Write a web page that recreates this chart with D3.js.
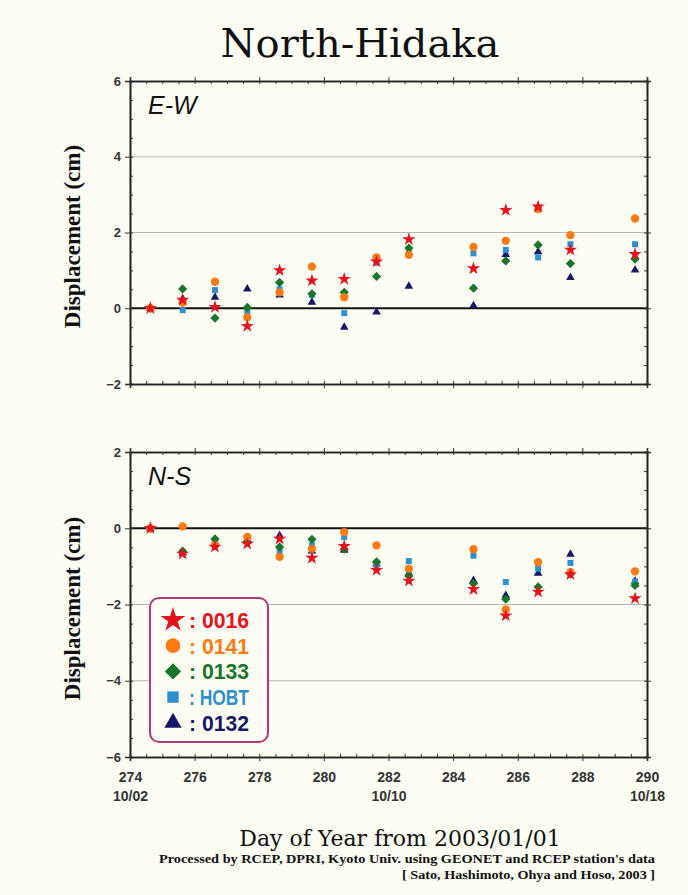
<!DOCTYPE html>
<html>
<head>
<meta charset="utf-8">
<script src="https://cdn.jsdelivr.net/npm/d3@7"></script>
<style>
  html, body { margin: 0; padding: 0; background: #fdfdf4; }
</style>
</head>
<body>
<div id="chart"></div>
<script>
// day of year of each daily solution
const days = [274.63, 275.63, 276.63, 277.63, 278.63, 279.63, 280.63, 281.63, 282.63, 284.63, 285.63, 286.63, 287.63, 289.63];

// E-W displacement (cm)
const ew0016 = [0, 0.22, 0.03, -0.47, 1.0, 0.73, 0.77, 1.23, 1.82, 1.05, 2.59, 2.68, 1.54, 1.43];
const ew0141 = [0, 0.15, 0.70, -0.24, 0.42, 1.1, 0.29, 1.34, 1.41, 1.62, 1.78, 2.62, 1.93, 2.37];
const ew0133 = [0, 0.51, -0.26, 0.02, 0.68, 0.38, 0.42, 0.84, 1.59, 0.53, 1.25, 1.67, 1.18, 1.30];
const ewHOBT = [0, -0.05, 0.48, -0.1, 0.5, 0.35, -0.13, 1.2, 1.5, 1.45, 1.54, 1.34, 1.69, 1.69];
const ew0132 = [0, 0.25, 0.29, 0.51, 0.35, 0.16, -0.5, -0.1, 0.58, 0.07, 1.42, 1.49, 0.81, 1.01];

// N-S displacement (cm)
const ns0016 = [0, -0.67, -0.49, -0.41, -0.28, -0.78, -0.47, -1.10, -1.38, -1.6, -2.29, -1.67, -1.21, -1.84];
const ns0141 = [0, 0.05, -0.45, -0.23, -0.75, -0.54, -0.10, -0.45, -1.06, -0.55, -2.13, -0.89, -1.15, -1.13];
const ns0133 = [0, -0.6, -0.28, -0.35, -0.49, -0.29, -0.55, -0.88, -1.25, -1.45, -1.86, -1.54, -1.2, -1.5];
const nsHOBT = [0, -0.62, -0.4, -0.3, -0.6, -0.45, -0.23, -1.0, -0.86, -0.72, -1.41, -1.06, -0.91, -1.4];
const ns0132 = [0, -0.65, -0.36, -0.32, -0.19, -0.6, -0.58, -0.93, -1.18, -1.37, -1.76, -1.18, -0.68, -1.39];

const stations = ["0016", "0141", "0133", "HOBT", "0132"];
const xTicks = [274, 276, 278, 280, 282, 284, 286, 288, 290];
const dateLabels = { 274: "10/02", 282: "10/10", 290: "10/18" };

const w = 688;
const h = 895;

const colors = { "0016": "#e3141e", "0141": "#ff7a12", "0133": "#17762c", "HOBT": "#2f8fcf", "0132": "#161866" };
const shapes = { "0016": d3.symbolStar, "0141": d3.symbolCircle, "0133": d3.symbolDiamond2 || d3.symbolDiamond, "HOBT": d3.symbolSquare, "0132": d3.symbolTriangle };
const sizes = { "0016": 55, "0141": 55, "0133": 55, "HOBT": 36, "0132": 32 };
const legSizes = { "0016": 190, "0141": 170, "0133": 170, "HOBT": 130, "0132": 130 };

const svg = d3.select("#chart")
  .append("svg")
  .attr("width", w)
  .attr("height", h)
  .attr("viewBox", [0, 0, w, h])
  .style("background", "#fdfdf4");

const x = d3.scaleLinear()
  .domain([274, 290])
  .range([130, 647]);

const panels = [
  { label: "E-W", top: 81, bottom: 384, domain: [-2, 6], grid: [2, 4],
    series: { "0016": ew0016, "0141": ew0141, "0133": ew0133, "HOBT": ewHOBT, "0132": ew0132 } },
  { label: "N-S", top: 452, bottom: 757, domain: [-6, 2], grid: [-2, -4],
    series: { "0016": ns0016, "0141": ns0141, "0133": ns0133, "HOBT": nsHOBT, "0132": ns0132 } }
];

panels.forEach((p, pi) => {
  const y = d3.scaleLinear().domain(p.domain).range([p.bottom, p.top]);
  const g = svg.append("g");

  // grid lines
  g.append("g")
    .selectAll("line")
    .data(p.grid)
    .join("line")
      .attr("x1", x.range()[0]).attr("x2", x.range()[1])
      .attr("y1", d => y(d)).attr("y2", d => y(d))
      .attr("stroke", "#b8b8b0")
      .attr("stroke-width", 1.2);

  // zero line
  g.append("line")
    .attr("x1", x.range()[0]).attr("x2", x.range()[1])
    .attr("y1", y(0)).attr("y2", y(0))
    .attr("stroke", "#111")
    .attr("stroke-width", 2.2);

  // axes: left with labels, others ticks only
  const left = g.append("g")
    .attr("transform", `translate(${x.range()[0]},0)`)
    .call(d3.axisLeft(y).tickValues(d3.range(p.domain[0], p.domain[1] + 0.01, 2)).tickSize(5).tickPadding(4));
  g.append("g")
    .attr("transform", `translate(${x.range()[0]},0)`)
    .call(d3.axisRight(y).tickValues(d3.range(p.domain[0], p.domain[1] + 0.01, 0.5)).tickSize(3).tickFormat(""));
  g.append("g")
    .attr("transform", `translate(${x.range()[1]},0)`)
    .call(d3.axisLeft(y).tickValues(d3.range(p.domain[0], p.domain[1] + 0.01, 0.5)).tickSize(3).tickFormat(""));
  g.append("g")
    .attr("transform", `translate(${x.range()[1]},0)`)
    .call(d3.axisRight(y).tickValues(d3.range(p.domain[0], p.domain[1] + 0.01, 2)).tickSize(4).tickFormat(""));
  g.append("g")
    .attr("transform", `translate(0,${p.top})`)
    .call(d3.axisTop(x).tickValues(xTicks).tickSize(4).tickFormat(""));
  g.append("g")
    .attr("transform", `translate(0,${p.top})`)
    .call(d3.axisBottom(x).ticks(32).tickSize(3).tickFormat(""));
  g.append("g")
    .attr("transform", `translate(0,${p.bottom})`)
    .call(d3.axisTop(x).ticks(32).tickSize(3).tickFormat(""));
  const bottom = g.append("g")
    .attr("transform", `translate(0,${p.bottom})`)
    .call(d3.axisBottom(x).tickValues(xTicks).tickSize(4).tickPadding(11)
      .tickFormat(d => pi === 1 ? d : ""));

  g.selectAll(".domain").attr("stroke", "#222").attr("stroke-width", 1.6);
  g.selectAll(".tick line").attr("stroke", "#333");
  left.selectAll("text")
    .attr("font-family", "Liberation Sans, Arial, sans-serif")
    .attr("font-size", 13)
    .attr("font-weight", "bold")
    .attr("fill", "#333");
  bottom.selectAll("text")
    .attr("font-family", "Liberation Sans, Arial, sans-serif")
    .attr("font-size", 14)
    .attr("font-weight", "bold")
    .attr("fill", "#333");
  if (pi === 1) {
    bottom.selectAll(".tick")
      .filter(d => dateLabels[d])
      .append("text")
        .attr("y", 44)
        .attr("fill", "#333")
        .attr("font-family", "Liberation Sans, Arial, sans-serif")
        .attr("font-size", 14)
        .attr("font-weight", "bold")
        .attr("text-anchor", "middle")
        .text(d => dateLabels[d]);
  }

  // panel label
  g.append("text")
    .attr("x", x.range()[0] + 18)
    .attr("y", p.top + 33)
    .attr("font-family", "Liberation Sans, Arial, sans-serif")
    .attr("font-size", 25)
    .attr("font-style", "italic")
    .attr("fill", "#111")
    .text(p.label);

  // y title
  g.append("text")
    .attr("transform", `translate(80,${(p.top + p.bottom) / 2 + 4}) rotate(-90)`)
    .attr("text-anchor", "middle")
    .attr("font-family", "Liberation Serif, Times New Roman, serif")
    .attr("font-size", 23)
    .attr("font-weight", "bold")
    .attr("fill", "#111")
    .text("Displacement (cm)");

  // points: draw 0132 first so the star ends on top
  stations.slice().reverse().forEach(s => {
    g.append("g")
      .selectAll("path")
      .data(p.series[s].map((v, i) => ({ day: days[i], v })))
      .join("path")
        .attr("transform", d => `translate(${x(d.day)},${y(d.v)})`)
        .attr("d", d3.symbol().type(shapes[s]).size(sizes[s]))
        .attr("fill", colors[s]);
  });
});

// legend
const leg = svg.append("g").attr("transform", "translate(150,598)");
leg.append("rect")
  .attr("width", 118)
  .attr("height", 144)
  .attr("rx", 9)
  .attr("fill", "#fdfdf4")
  .attr("stroke", "#b23a74")
  .attr("stroke-width", 2);
stations.forEach((s, i) => {
  const row = leg.append("g").attr("transform", `translate(0,${22 + i * 25.7})`);
  row.append("path")
    .attr("transform", "translate(23,0)")
    .attr("d", d3.symbol().type(shapes[s]).size(legSizes[s]))
    .attr("fill", colors[s]);
  row.append("text")
    .attr("x", 39)
    .attr("y", 8)
    .attr("font-family", "Liberation Sans, Arial, sans-serif")
    .attr("font-size", 22)
    .attr("font-weight", "bold")
    .attr("fill", colors[s])
    .attr("textLength", 60)
    .attr("lengthAdjust", "spacingAndGlyphs")
    .text(": " + s);
});

// titles
svg.append("text")
  .attr("x", 360)
  .attr("y", 57)
  .attr("text-anchor", "middle")
  .attr("font-family", "DejaVu Serif, serif")
  .attr("font-size", 40)
  .attr("fill", "#111")
  .text("North-Hidaka");

svg.append("text")
  .attr("x", 400)
  .attr("y", 846)
  .attr("text-anchor", "middle")
  .attr("font-family", "DejaVu Serif, serif")
  .attr("font-size", 22)
  .attr("fill", "#111")
  .text("Day of Year from 2003/01/01");

svg.append("text")
  .attr("x", 655)
  .attr("y", 863)
  .attr("text-anchor", "end")
  .attr("font-family", "Liberation Serif, serif")
  .attr("font-size", 12.5)
  .attr("font-weight", "bold")
  .attr("fill", "#111")
  .attr("textLength", 496)
  .attr("lengthAdjust", "spacingAndGlyphs")
  .text("Processed by RCEP, DPRI, Kyoto Univ. using GEONET and RCEP station's data");

svg.append("text")
  .attr("x", 655)
  .attr("y", 879)
  .attr("text-anchor", "end")
  .attr("font-family", "Liberation Serif, serif")
  .attr("font-size", 12.5)
  .attr("font-weight", "bold")
  .attr("fill", "#111")
  .attr("textLength", 253)
  .attr("lengthAdjust", "spacingAndGlyphs")
  .text("[ Sato, Hashimoto, Ohya and Hoso, 2003 ]");
</script>
</body>
</html>
